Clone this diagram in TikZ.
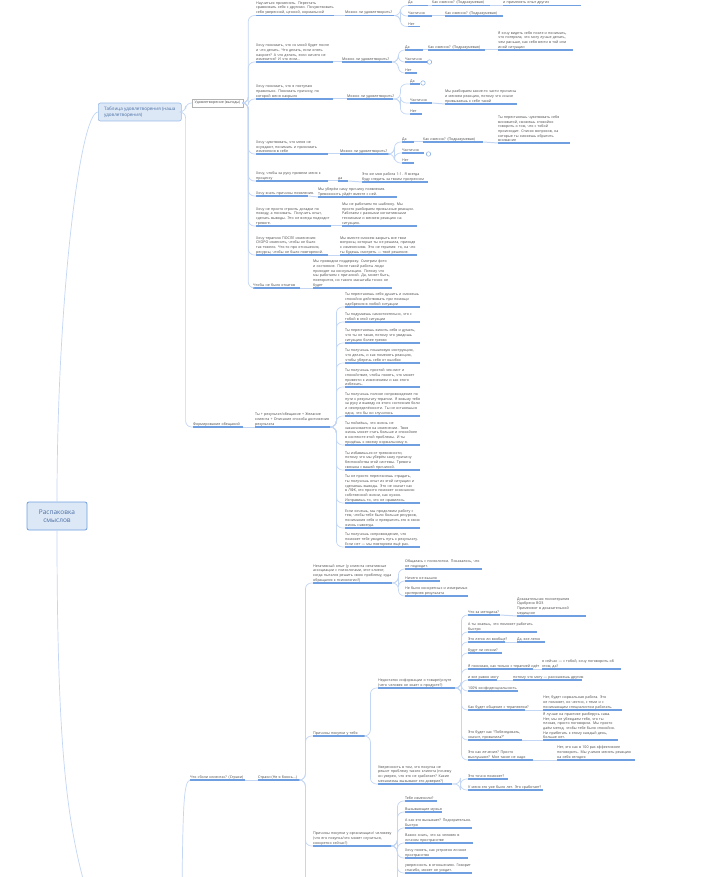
\documentclass[tikz,border=0pt]{standalone}
\usepackage{fontspec}
\setmainfont{Open Sans}
\usetikzlibrary{calc}
\definecolor{ulb}{HTML}{6F9FE0}
\definecolor{cnb}{HTML}{C3D7F4}
\definecolor{txt}{HTML}{4A4A4A}
\definecolor{rootfill}{HTML}{DDE8F6}
\definecolor{roottext}{HTML}{4A6FA5}
\tikzset{
 tp/.style={anchor=south west, inner xsep=0pt, inner ysep=0.8pt, align=left, text=txt, font=\fontsize{3.6}{4.7}\selectfont},
 ul/.style={draw=ulb, line width=1.2pt},
 conn/.style={draw=cnb, line width=0.7pt, rounded corners=6pt},
 chain/.style={draw=cnb, line width=1.0pt},
 icn/.style={circle, draw=ulb, line width=0.4pt, minimum size=4.5pt, inner sep=0pt},
 rootbox/.style={draw=ulb, fill=rootfill, rounded corners=2pt, line width=0.8pt, minimum width=60pt, minimum height=28pt, align=center, text=roottext, font=\fontsize{6.5}{8.3}\selectfont},
 tabbox/.style={draw=ulb!70, fill=rootfill, rounded corners=2pt, line width=0.6pt, minimum width=83pt, minimum height=18pt, inner xsep=5pt, align=left, text=roottext, font=\fontsize{4.6}{6.3}\selectfont},
 udbox/.style={draw=black!30, fill=white, line width=0.5pt, minimum width=51pt, minimum height=8pt, inner sep=0.5pt, text=txt, font=\fontsize{3.6}{4.5}\selectfont},
}
\newcommand{\tpc}[5]{\node[tp,text width=#4pt] (#1) at (#2,-#3) {#5};\draw[ul] (#1.south west) -- (#1.south east);}
\newcommand{\cnx}[3]{\draw[conn] (#1.south east) -- ++(#3,0) |- (#2.south west);}
\newcommand{\chn}[2]{\draw[chain] (#1.south east) -- (#2.south west);}
\begin{document}
\begin{tikzpicture}[x=1pt,y=1pt]
\useasboundingbox (0,0) rectangle (723,-877);
\clip (0,0) rectangle (723,-877);
\fill[white] (0,0) rectangle (723,-877);

% ---------- root and main boxes ----------
\node[rootbox] (root) at (57,-516) {Распаковка\\смыслов};
\node[tabbox, anchor=west] (tab) at (98,-112) {Таблица удовлетворения (наша\\удовлетворения)};
\node[udbox] (udov) at (217.5,-103) {Удовлетворение (выгоды)};
\tpc{form}{193}{427}{50}{\mbox{Формирование обещаний}}
\tpc{chto}{190}{780}{55}{\mbox{Что «боли клиента»? (Страхи)}}

\draw[conn] (root.north) .. controls (57,-300) and (80,-112) .. (tab.west);
\draw[conn] (root.south) .. controls (57,-780) and (70,-840) .. (95,-920);
\draw[conn] (tab.east) -- ++(4,0) |- (udov.west);
\draw[conn] (tab.east) -- ++(4,0) |- (form.south west);
\draw[conn] (chto.south west) .. controls (184,-782) and (183,-800) .. (182,-890);

% ---------- Удовлетворение ----------
\tpc{u1}{256}{15.5}{78}{Научиться применять. Перестать сравнивать себя с другими. Почувствовать себя уверенной, ценной, нормальной}
\tpc{u1q}{345}{15.5}{50}{\mbox{Можно ли удовлетворить?}}
\tpc{u1da}{408}{5.5}{20}{Да}
\tpc{u1dak}{432}{5.5}{58}{\mbox{Как именно? (Подразумевая)}}
\tpc{u1dat}{503}{5.5}{78}{\mbox{и применять опыт других}}
\tpc{u1ch}{408}{16}{24}{Частично}
\tpc{u1chk}{445}{16}{58}{\mbox{Как именно? (Подразумевая)}}
\tpc{u1no}{408}{26.5}{12}{Нет}

\tpc{u2}{256}{62}{77}{Хочу понимать, что со мной будет после и что делать. Что делать, если опять накроет? А что делать, если ничего не изменится? И что если…}
\tpc{u2q}{342}{62}{50}{\mbox{Можно ли удовлетворить?}}
\tpc{u2da}{405}{50}{18}{Да}
\tpc{u2dak}{428}{50}{57}{\mbox{Как именно? (Подразумевая)}}
\tpc{u2dat}{498}{50}{75}{Я хочу видеть себя после и понимать, что потеряла, что могу лучше делать, чем раньше, как себя вести в той или иной ситуации}
\tpc{u2ch}{405}{62}{22}{Частично}
\tpc{u2no}{405}{73}{12}{Нет}
\node[icn] (i2) at (429.5,-62) {};

\tpc{u3}{256}{99}{77}{Хочу понимать, что я поступаю правильно. Понимать причину, по которой меня накрыло}
\tpc{u3q}{347}{99}{46}{\mbox{Можно ли удовлетворить?}}
\tpc{u3da}{410}{84}{10}{Да}
\tpc{u3ch}{410}{103}{22}{Частично}
\tpc{u3cht}{445}{104}{72}{Мы разбираем какие-то части причины и меняем реакцию, потому что иначе привыкаешь к себе такой}
\tpc{u3no}{410}{114}{12}{Нет}
\node[icn] (i3) at (423,-83) {};

\tpc{u4}{256}{154}{72}{Хочу чувствовать, что меня не осуждают, понимать и принимать изменения в себе}
\tpc{u4q}{340}{154}{50}{\mbox{Можно ли удовлетворить?}}
\tpc{u4da}{402}{142}{12}{Да}
\tpc{u4dak}{423}{142}{60}{\mbox{Как именно? (Подразумевая)}}
\tpc{u4dat}{498}{143}{72}{Ты перестанешь чувствовать себя виноватой, сможешь спокойно говорить о том, что с тобой происходит. Список вопросов, на которые ты сможешь обратить внимание}
\tpc{u4ch}{402}{153}{22}{Частично}
\tpc{u4no}{402}{163}{12}{Нет}
\node[icn] (i4) at (428.5,-154) {};

\tpc{u5}{256}{181}{72}{Хочу, чтобы за руку привели меня к процессу}
\tpc{u5a}{338}{181}{10}{да}
\tpc{u5b}{362}{182}{66}{Это же моя работа 1:1. Я всегда буду следить за твоим прогрессом}

\tpc{u6}{256}{196}{52}{\mbox{Хочу знать причины появления.}}
\tpc{u6a}{318}{197}{79}{Мы уберём саму причину появления. Тревожность уйдёт вместе с ней.}

\tpc{u7}{256}{226}{75}{Хочу не просто строить догадки по поводу, а понимать. Получить опыт, сделать выводы. Это не всегда подходит тревоге.}
\tpc{u7a}{342}{226}{75}{Мы не работаем по шаблону. Мы просто разбираем привычные реакции. Работаем с разными когнитивными техниками и меняем реакцию на ситуацию.}

\tpc{u8}{256}{255}{72}{Хочу терапию ПОСЛЕ изменения: СКОРО изменить, чтобы не было так тяжело. Что-то про отношения, ресурсы, чтобы не было повторений.}
\tpc{u8a}{340}{255}{77}{Мы вместе сможем закрыть все твои вопросы, которые ты не решила, приходя к изменениям. Это не терапия: то, на что ты будешь смотреть — твоё решение.}

\tpc{u9}{253}{288}{47}{\mbox{Чтобы не было откатов}}
\tpc{u9a}{313}{288}{79}{Мы проводим поддержку. Смотрим фото и состояние. После такой работы люди приходят на консультацию. Потому что мы работаем с причиной. Да, может быть, повторится, но такого масштаба точно не будет}

\foreach \c in {u1,u2,u3,u4,u5,u6,u7,u8,u9}{\draw[conn] (udov.east) -- ++(5,0) |- (\c.south west);}
\chn{u1}{u1q}\chn{u2}{u2q}\chn{u3}{u3q}\chn{u4}{u4q}
\chn{u5}{u5a}\chn{u5a}{u5b}\chn{u6}{u6a}\chn{u7}{u7a}\chn{u8}{u8a}\chn{u9}{u9a}
\chn{u1da}{u1dak}\chn{u1dak}{u1dat}\chn{u1ch}{u1chk}
\chn{u2da}{u2dak}\chn{u2dak}{u2dat}\chn{u3ch}{u3cht}
\chn{u4da}{u4dak}\chn{u4dak}{u4dat}
\foreach \c in {u1da,u1ch,u1no}{\cnx{u1q}{\c}{5}}
\foreach \c in {u2da,u2ch,u2no}{\cnx{u2q}{\c}{6}}
\foreach \c in {u3da,u3ch,u3no}{\cnx{u3q}{\c}{7}}
\foreach \c in {u4da,u4ch,u4no}{\cnx{u4q}{\c}{4}}

% ---------- Формирование обещаний ----------
\tpc{f1}{255}{427}{77}{Ты + результат/обещание + Желание клиента + Описание способа достижения результата}
\chn{form}{f1}
\tpc{fa}{345}{307}{75}{Ты перестанешь себя душить и сможешь спокойно действовать при помощи одобрения в любой ситуации}
\tpc{fb}{345}{322}{75}{Ты подумаешь самостоятельно, что с тобой в этой ситуации}
\tpc{fc}{345}{343}{75}{Ты перестанешь винить себя и думать, что ты не такая, потому что увидишь ситуацию более трезво}
\tpc{fd}{345}{363}{75}{Ты получишь пошаговую инструкцию, что делать, и как поменять реакцию, чтобы уберечь себя от ошибок}
\tpc{fe}{345}{387}{75}{Ты получишь простой чек-лист и спокойствие, чтобы понять, что может привести к изменениям и как этого избежать.}
\tpc{ff}{345}{416}{75}{Ты получишь полное сопровождение по пути к результату терапии. Я возьму тебя за руку и выведу из этого состояния боли и неопределённости. Ты не останешься одна, что бы ни случилось}
\tpc{fg}{345}{445}{75}{Ты поймёшь, что жизнь не заканчивается на изменении. Твоя жизнь может стать больше и спокойнее в контексте этой проблемы. И ты придёшь к своему нормальному я.}
\tpc{fh}{345}{470}{75}{Ты избавишься от тревожности, потому что мы уберём саму причину беспокойства этой системы. Тревога связана с вашей причиной.}
\tpc{fi}{345}{503}{75}{Ты не просто перестанешь страдать, ты получишь опыт из этой ситуации и сделаешь выводы. Это не значит как в ЛФК, это просто поможет осознанию собственной жизни, как нужно. Исправишь то, что не нравилось.}
\tpc{fj}{345}{528}{75}{Если хочешь, мы продолжим работу с тем, чтобы тебе было больше ресурсов, понимания себя и превратить это в свою жизнь навсегда.}
\tpc{fk}{345}{547}{75}{Ты получишь сопровождение, что поможет тебе увидеть путь к результату. Если нет — мы повторяем ещё раз.}
\foreach \c in {fa,fb,fc,fd,fe,ff,fg,fh,fi,fj,fk}{\cnx{f1}{\c}{4}}

% ---------- Страхи ----------
\tpc{strah}{258}{780}{42}{\mbox{Страхи (Не я боюсь…)}}
\chn{chto}{strah}
\tpc{neg}{313}{583}{79}{Негативный опыт (у клиента негативные ассоциации с психологами, этот клиент, когда пытался решить свою проблему, куда обращался к психологии?)}
\tpc{pr1}{313}{736}{52}{\mbox{Причины покупки у тебя}}
\tpc{pr2}{313}{846}{79}{Причины покупки у организации/ человеку (что его покупка/что может случиться, конкретно сейчас?)}
\foreach \c in {neg,pr1,pr2}{\cnx{strah}{\c}{5}}
\draw[conn] (strah.south east) -- ++(5,0) -- ++(0,-120);

\tpc{n1}{405}{569}{77}{Общалась с психологом. Показалось, что не подходит.}
\tpc{n2}{405}{581}{35}{\mbox{Ничего не вышло}}
\tpc{n3}{405}{596}{63}{Не было конкретных и измеримых критериев результата}
\foreach \c in {n1,n2,n3}{\cnx{neg}{\c}{6}}

\tpc{q}{378}{688}{77}{Недостаток информации о товаре/услуге (чего человек не знает о продукте?)}
\tpc{r}{378}{784}{74}{Уверенность в том, что покупка не решит проблему такого клиента (почему он уверен, что это не сработает? Какие механизмы вызывают это доверие?)}
\foreach \c in {q,r}{\cnx{pr1}{\c}{5}}

\tpc{q1}{468}{615}{32}{\mbox{Что за методика?}}
\tpc{q1a}{517}{616}{69}{Доказательная психотерапия\\Одобрено ВОЗ\\Применяют в доказательной медицине}
\tpc{q2}{468}{632}{69}{А ты знаешь, что поможет работать быстро}
\tpc{q3}{468}{642}{37}{\mbox{Это легко ли вообще?}}
\tpc{q3a}{517}{642}{28}{\mbox{Да, все легко}}
\tpc{q4}{468}{653}{34}{\mbox{Будут ли сессии?}}
\tpc{q5}{468}{669}{65}{\mbox{Я понимаю, как только с терапией идёт}}
\tpc{q5a}{542}{669}{79}{я сейчас — с тобой, хочу поговорить об этом, да?}
\tpc{q6}{468}{680}{29}{\mbox{и все равно могу}}
\tpc{q6a}{513}{680}{69}{\mbox{потому что могу — расскажешь другим}}
\tpc{q7}{468}{691}{50}{\mbox{100\% конфиденциальность}}
\tpc{q8}{468}{710}{57}{\mbox{Как будет общение с терапевтом?}}
\tpc{q8a}{543}{710}{79}{Нет, будет нормальная работа. Это не поможет, но честно, с теми и с понимающим специалистом работать.}
\tpc{q9}{468}{740}{54}{Это будет как “Побеседовать, значит, провалила?”}
\tpc{q9a}{543}{740}{75}{Я лучше на практике разберусь сама. Нет, мы не убеждаем тебя, что ты плохая, просто поговорим. Мы просто даём метод, чтобы тебе было спокойно. Ни прибегать к этому каждый день, больше нет.}
\tpc{q10}{468}{760}{65}{Это как лечение? Просто выслушают? Мне такое не надо}
\tpc{q10a}{557}{760}{78}{Нет, это как в 100 раз эффективнее поговорить. Мы учимся менять реакцию на себя сегодня}
\foreach \c in {q1,q2,q3,q4,q5,q6,q7,q8,q9,q10}{\cnx{q}{\c}{6}}
\chn{q1}{q1a}\chn{q3}{q3a}\chn{q5}{q5a}\chn{q6}{q6a}\chn{q8}{q8a}\chn{q9}{q9a}\chn{q10}{q10a}

\tpc{r1}{468}{779}{40}{\mbox{Это точно поможет?}}
\tpc{r2}{468}{790}{75}{\mbox{У меня это уже было лет. Это сработает?}}
\foreach \c in {r1,r2}{\cnx{r}{\c}{8}}

\tpc{p1}{405}{801}{32}{\mbox{Тебе изменили?}}
\tpc{p2}{405}{812}{37}{\mbox{Вызывающие мужья}}
\tpc{p3}{405}{828}{67}{А как это вызывает? Подозрительно. Быстро}
\tpc{p4}{405}{843}{68}{Важно знать, что за человек в личном пространстве}
\tpc{p5}{405}{858}{63}{Хочу понять, как устроено личное пространство}
\tpc{p6}{405}{873}{67}{уверенность в отношениях. Говорит спасибо, может не уходит.}
\foreach \c in {p1,p2,p3,p4,p5,p6}{\cnx{pr2}{\c}{5}}
\draw[conn] (pr2.south east) -- ++(5,0) -- ++(0,-60);
\end{tikzpicture}
\end{document}
